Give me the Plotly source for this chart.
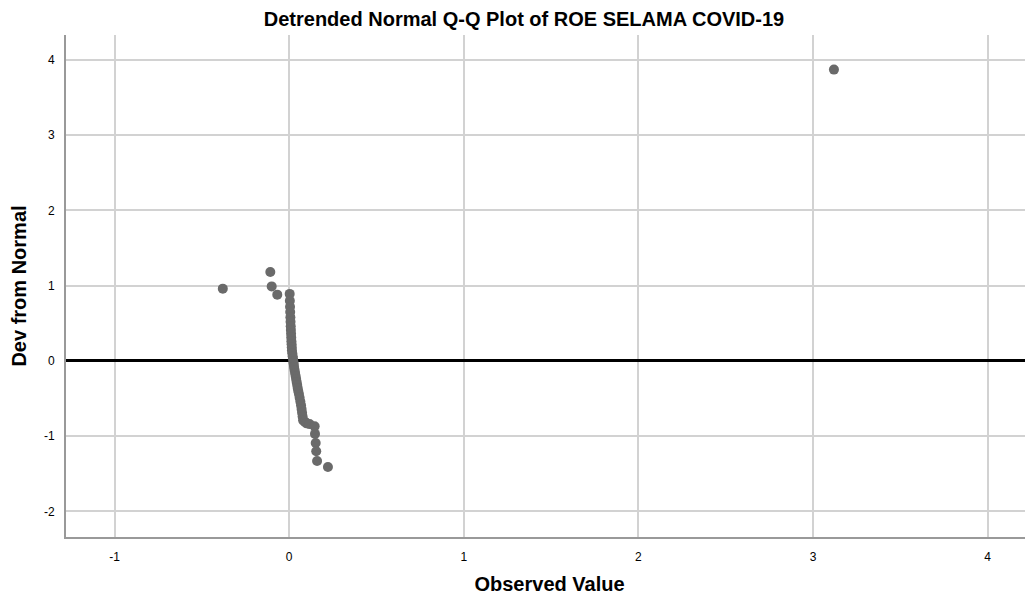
import plotly.graph_objects as go

observed = [-0.38, -0.108, -0.100, -0.068,
            0.003, 0.004, 0.005, 0.006, 0.007, 0.008, 0.009, 0.010, 0.011, 0.012,
            0.013, 0.014, 0.015, 0.016, 0.018, 0.020, 0.022, 0.024, 0.026, 0.028,
            0.031, 0.034, 0.037, 0.040, 0.043, 0.046, 0.049, 0.052, 0.056, 0.060,
            0.064, 0.068, 0.071, 0.074, 0.077, 0.080, 0.090, 0.100,
            0.117, 0.146, 0.148, 0.152, 0.155, 0.160, 0.222, 3.12]
deviation = [0.96, 1.18, 0.99, 0.88,
             0.89, 0.80, 0.72, 0.65, 0.58, 0.52, 0.46, 0.41, 0.36, 0.31,
             0.26, 0.22, 0.18, 0.14, 0.10, 0.06, 0.03, -0.01, -0.04, -0.08,
             -0.12, -0.16, -0.20, -0.24, -0.28, -0.32, -0.36, -0.40, -0.44, -0.49,
             -0.54, -0.59, -0.64, -0.69, -0.74, -0.79, -0.81, -0.83,
             -0.84, -0.87, -0.97, -1.09, -1.20, -1.33, -1.41, 3.87]

x_ticks = [-1, 0, 1, 2, 3, 4]
x_tick_labels = ["-1", "0", "1", "2", "3", "4"]
y_ticks = [-2, -1, 0, 1, 2, 3, 4]
y_tick_labels = ["-2", "-1", "0", "1", "2", "3", "4"]

fig = go.Figure(go.Scatter(
    x=observed, y=deviation, mode="markers",
    marker=dict(size=10, color="#6a6a6a"),
    hoverinfo="x+y",
))

font_family = "Liberation Sans, Arial, sans-serif"
fig.update_layout(
    width=1033, height=587,
    margin=dict(l=58, r=8, t=27, b=58, autoexpand=False),
    paper_bgcolor="white", plot_bgcolor="white",
    showlegend=False,
    font=dict(family=font_family, size=12, color="#000000"),
    title=dict(text="<b>Detrended Normal Q-Q Plot of ROE SELAMA COVID-19</b>",
               x=0.4995, xanchor="center", y=0.981, yanchor="middle",
               font=dict(size=20, color="#000000")),
    xaxis=dict(range=[-1.278, 4.26], tickvals=x_ticks, ticktext=x_tick_labels,
               showgrid=True, gridcolor="#d2d2d2", gridwidth=1.5, zeroline=False,
               showline=True, linecolor="#999999", linewidth=2,
               ticks="", ticklabelstandoff=8,
               tickfont=dict(color="#000000"),
               title=dict(text="<b>Observed Value</b>", font=dict(size=20, color="#000000"),
                          standoff=21)),
    yaxis=dict(range=[-2.34, 4.33], tickvals=y_ticks, ticktext=y_tick_labels,
               showgrid=True, gridcolor="#d2d2d2", gridwidth=1.5, zeroline=True,
               zerolinecolor="#000000", zerolinewidth=3,
               showline=True, linecolor="#999999", linewidth=2,
               ticks="", ticklabelstandoff=7,
               tickfont=dict(color="#000000"),
               title=dict(text="<b>Dev from Normal</b>", font=dict(size=20, color="#000000"),
                          standoff=18)),
)

fig.write_html("out.html")
